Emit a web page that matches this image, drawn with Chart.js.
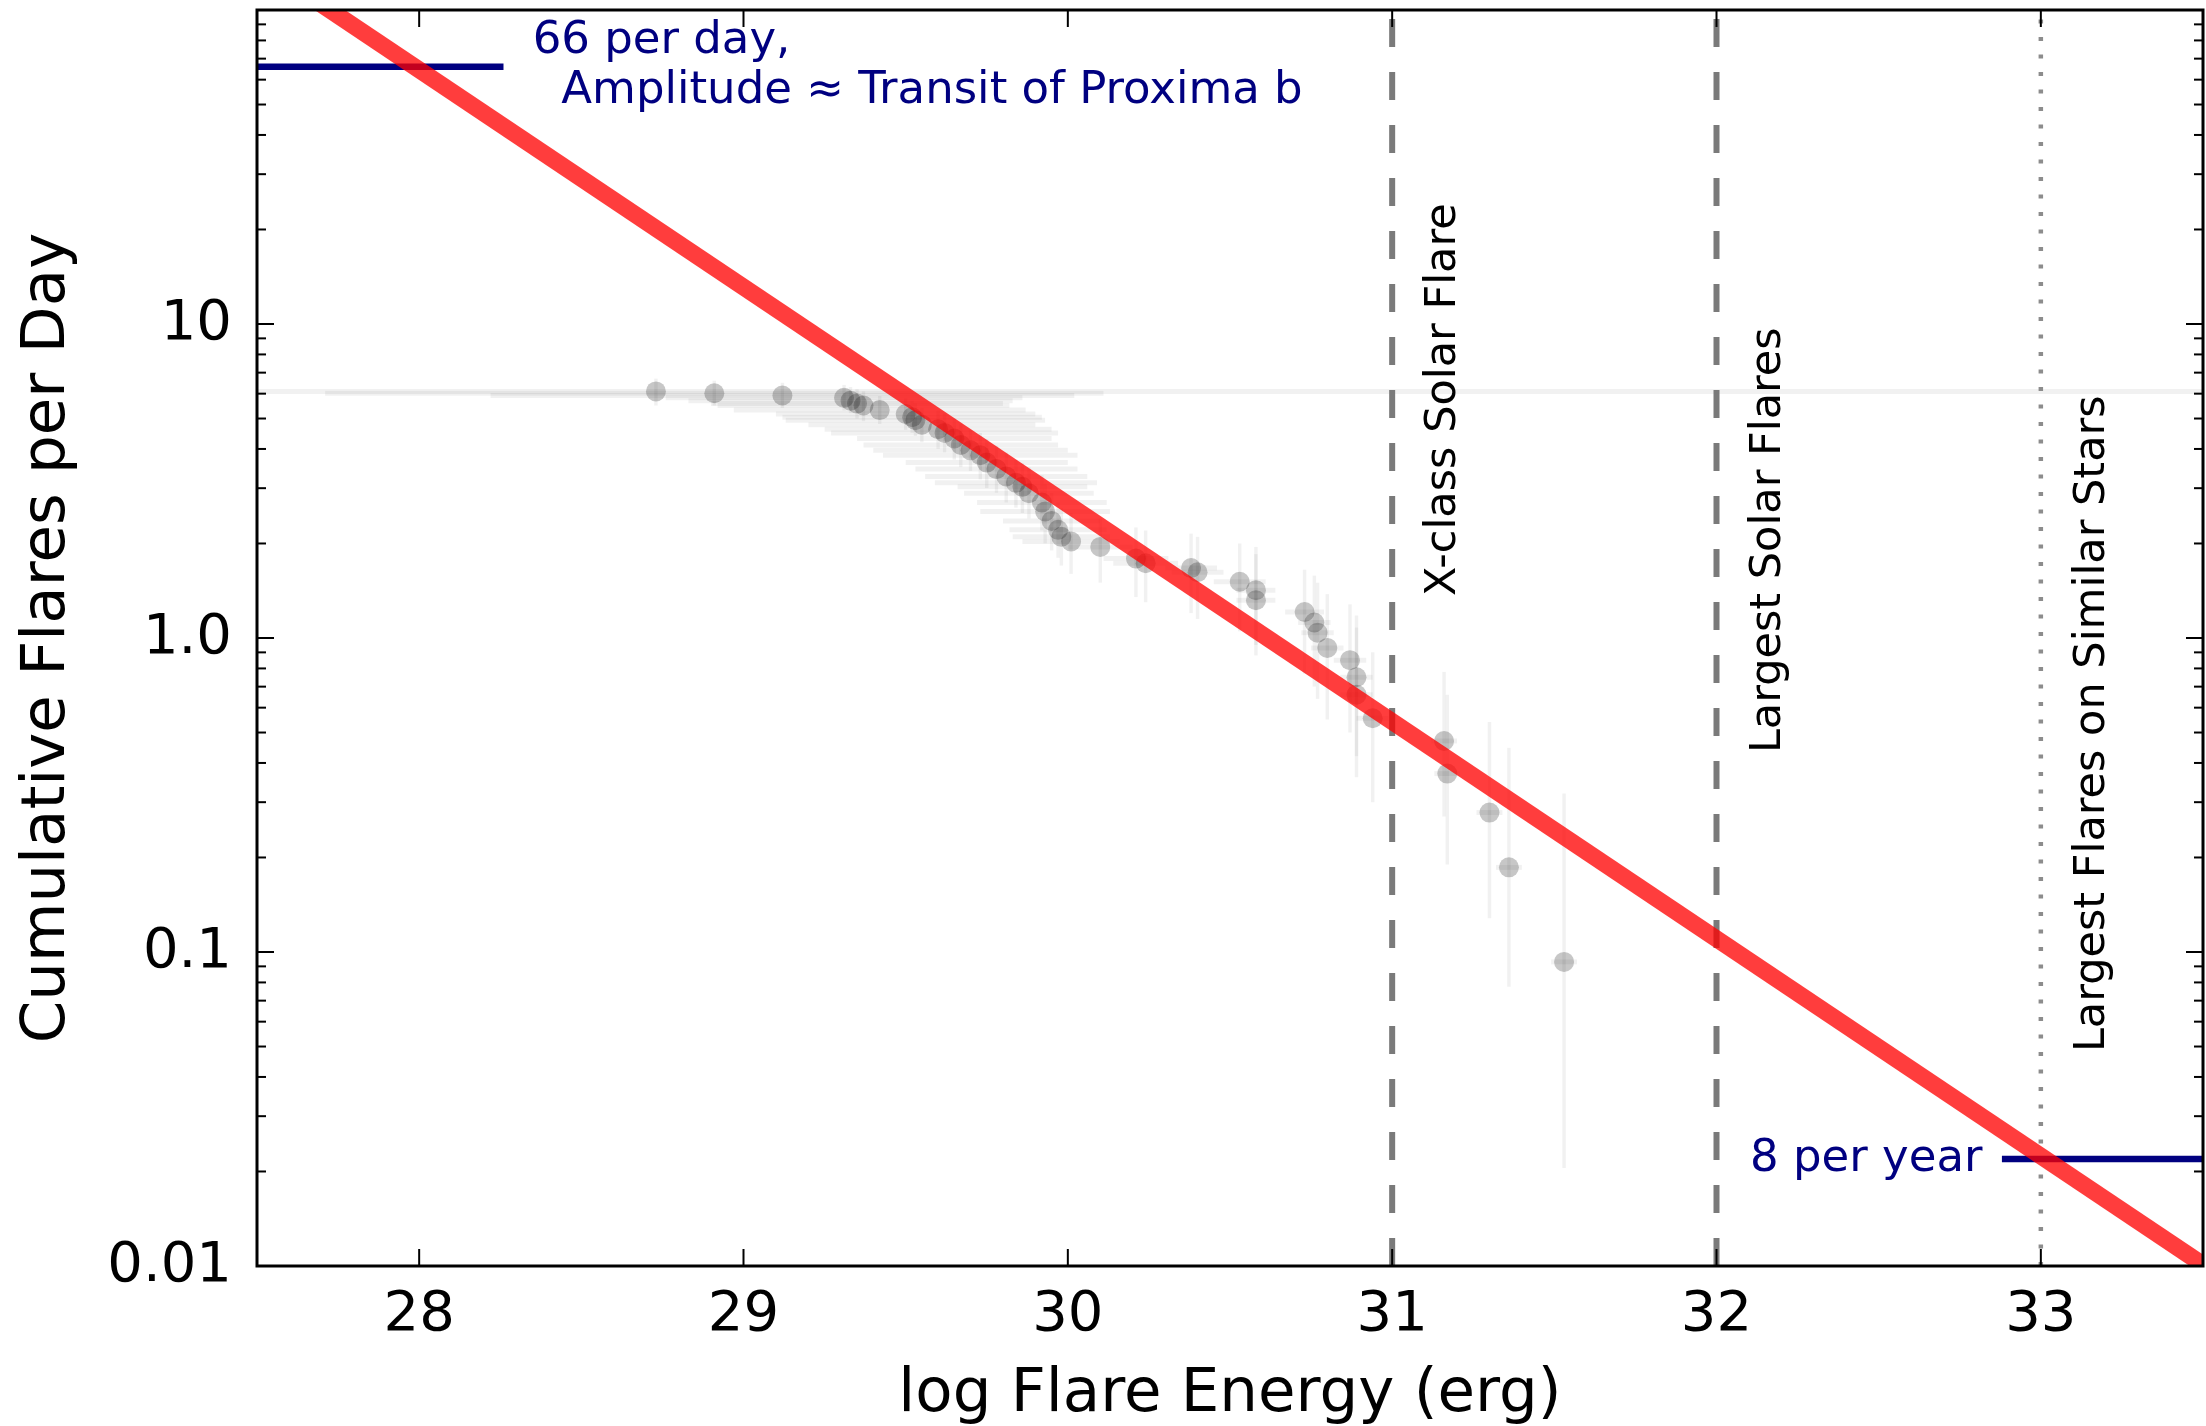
<!DOCTYPE html>
<html>
<head>
<meta charset="utf-8">
<title>Cumulative flares per day</title>
<script src="https://cdn.jsdelivr.net/npm/chart.js@4/dist/chart.umd.min.js"></script>
<style>
  html, body { margin: 0; padding: 0; background: #fff; }
  #flares { display: block; }
</style>
</head>
<body>
<canvas id="flares" width="2206" height="1426"></canvas>
<script>
// flare sample: log energy (erg) and cumulative rate (per day)
const energy = [28.73, 28.91, 29.12, 29.31, 29.33, 29.35, 29.37, 29.42, 29.50, 29.52,
  29.53, 29.55, 29.60, 29.62, 29.65, 29.67, 29.70, 29.73, 29.75, 29.78,
  29.81, 29.84, 29.86, 29.88, 29.92, 29.93, 29.95, 29.97, 29.98, 30.01,
  30.10, 30.21, 30.24, 30.38, 30.40, 30.53, 30.58, 30.58, 30.73, 30.76,
  30.77, 30.80, 30.87, 30.89, 30.89, 30.94, 31.16, 31.17, 31.30, 31.36, 31.53];
const rate = [6.10, 6.02, 5.92, 5.82, 5.70, 5.58, 5.50, 5.32, 5.17, 5.05,
  4.94, 4.78, 4.62, 4.50, 4.32, 4.12, 3.96, 3.82, 3.62, 3.45,
  3.27, 3.12, 3.03, 2.89, 2.70, 2.53, 2.36, 2.21, 2.10, 2.03,
  1.95, 1.79, 1.73, 1.67, 1.62, 1.51, 1.42, 1.32, 1.21, 1.12,
  1.04, 0.93, 0.85, 0.75, 0.66, 0.555, 0.47, 0.37, 0.278, 0.186, 0.093];
// error bar ends on the rate
const rateLow = [5.5, 5.5, 5.4, 5.3, 5.2, 5.0, 4.9, 4.8, 4.6, 4.5,
  4.4, 4.2, 4.0, 3.9, 3.7, 3.5, 3.4, 3.2, 3.0, 2.9,
  2.7, 2.6, 2.5, 2.4, 2.2, 2.0, 1.9, 1.8, 1.7, 1.6,
  1.5, 1.35, 1.3, 1.2, 1.15, 1.05, 0.95, 0.88, 0.77, 0.70,
  0.64, 0.55, 0.50, 0.42, 0.36, 0.30, 0.27, 0.19, 0.128, 0.0775, 0.0205];
const rateHigh = [6.7, 6.6, 6.5, 6.4, 6.3, 6.2, 6.1, 5.9, 5.8, 5.7,
  5.6, 5.4, 5.3, 5.2, 5.0, 4.8, 4.6, 4.5, 4.3, 4.1,
  3.9, 3.7, 3.6, 3.5, 3.3, 3.1, 2.9, 2.7, 2.6, 2.5,
  2.4, 2.25, 2.2, 2.15, 2.1, 2.0, 1.95, 1.85, 1.65, 1.58,
  1.50, 1.38, 1.28, 1.18, 1.08, 0.90, 0.78, 0.66, 0.54, 0.447, 0.32];
// error on log energy (+/-)
const energyErr = [6.0, 1.2, 0.9, 0.55, 0.5, 0.45, 0.45, 0.45, 0.4, 0.4,
  0.4, 0.35, 0.35, 0.35, 0.3, 0.3, 0.3, 0.3, 0.25, 0.25,
  0.25, 0.25, 0.2, 0.2, 0.2, 0.2, 0.15, 0.15, 0.15, 0.15,
  0.1, 0.1, 0.1, 0.08, 0.08, 0.08, 0.06, 0.06, 0.06, 0.05,
  0.05, 0.05, 0.05, 0.05, 0.05, 0.05, 0.04, 0.04, 0.04, 0.04, 0.04];

// power law fit, ends at the edges of the energy range
const fitEnergy = [27.5, 33.5];
const fitRate = [143, 0.0101];

// reference energies with their labels
const markerEnergy = [31, 32, 33];
const markerDashed = [true, true, false];
const markerText = ["X-class Solar Flare", "Largest Solar Flares", "Largest Flares on Similar Stars"];
const markerTextX = [31.16, 32.16, 33.16];
const markerTextY = [1.36, 0.43, 0.048];

// rates marked in blue
const dayRate = 66;         // 66 per day
const dayLine = [27.5, 28.26];
const yearRate = 0.0219;    // 8 per year
const yearLine = [32.88, 33.5];

// axes
const xTicks = [28, 29, 30, 31, 32, 33];
const yTicks = [0.01, 0.1, 1, 10];
const yTickLabels = ["0.01", "0.1", "1.0", "10"];

const FONT = "'DejaVu Sans', sans-serif";
const NAVY = "#000080";

// light grey error bars under the points
const errorBars = {
  id: "errorBars",
  beforeDatasetsDraw(chart) {
    const { ctx, chartArea: a, scales: { x, y } } = chart;
    ctx.save();
    ctx.beginPath();
    ctx.rect(a.left, a.top, a.right - a.left, a.bottom - a.top);
    ctx.clip();
    ctx.strokeStyle = "rgba(0,0,0,0.055)";
    ctx.lineWidth = 5;
    energy.forEach((e, i) => {
      const py = y.getPixelForValue(rate[i]);
      ctx.beginPath();
      ctx.moveTo(x.getPixelForValue(e - energyErr[i]), py);
      ctx.lineTo(x.getPixelForValue(e + energyErr[i]), py);
      ctx.stroke();
    });
    ctx.lineWidth = 3.5;
    energy.forEach((e, i) => {
      const px = x.getPixelForValue(e);
      ctx.beginPath();
      ctx.moveTo(px, y.getPixelForValue(rateLow[i]));
      ctx.lineTo(px, y.getPixelForValue(rateHigh[i]));
      ctx.stroke();
    });
    ctx.restore();
  }
};

// frame with inward ticks on all four sides
const frameTicks = {
  id: "frameTicks",
  afterDatasetsDraw(chart) {
    const { ctx, chartArea: a, scales: { x, y } } = chart;
    ctx.save();
    ctx.strokeStyle = "#000";
    ctx.lineWidth = 2;
    const tick = (x0, y0, x1, y1) => {
      ctx.beginPath();
      ctx.moveTo(x0, y0);
      ctx.lineTo(x1, y1);
      ctx.stroke();
    };
    xTicks.forEach((v) => {
      const px = x.getPixelForValue(v);
      tick(px, a.bottom, px, a.bottom - 17);
      tick(px, a.top, px, a.top + 17);
    });
    for (let d = -2; d <= 1; d++) {
      for (let m = 1; m <= 9; m++) {
        const v = m * Math.pow(10, d);
        const py = y.getPixelForValue(v);
        const len = m === 1 ? 17 : 9;
        tick(a.left, py, a.left + len, py);
        tick(a.right, py, a.right - len, py);
      }
    }
    ctx.lineWidth = 3;
    ctx.strokeRect(a.left, a.top, a.right - a.left, a.bottom - a.top);
    ctx.restore();
  }
};

// blue rate labels and rotated marker labels
const labels = {
  id: "labels",
  afterDatasetsDraw(chart) {
    const { ctx, scales: { x, y } } = chart;
    ctx.save();
    ctx.fillStyle = NAVY;
    ctx.font = "45px " + FONT;
    ctx.textBaseline = "middle";
    ctx.textAlign = "left";
    const dy = y.getPixelForValue(dayRate);
    const dx = x.getPixelForValue(dayLine[1] + 0.09);
    ctx.fillText("66 per day,", dx, dy - 25);
    ctx.fillText("  Amplitude \u2248 Transit of Proxima b", dx, dy + 25);
    ctx.textAlign = "right";
    ctx.fillText("8 per year", x.getPixelForValue(yearLine[0] - 0.06), y.getPixelForValue(yearRate));

    ctx.fillStyle = "#000";
    ctx.font = "43px " + FONT;
    ctx.textAlign = "left";
    markerText.forEach((t, i) => {
      ctx.save();
      ctx.translate(x.getPixelForValue(markerTextX[i]), y.getPixelForValue(markerTextY[i]));
      ctx.rotate(-Math.PI / 2);
      ctx.fillText(t, 0, 0);
      ctx.restore();
    });
    ctx.restore();
  }
};

// keep the plot box fixed: no extra room for the end tick labels
const noLabelPadding = (s) => {
  s.paddingTop = 0;
  s.paddingBottom = 0;
  s.paddingLeft = 0;
  s.paddingRight = 0;
};

const markerSets = markerEnergy.map((e, i) => ({
  type: "line",
  data: [{ x: e, y: 0.01 }, { x: e, y: 100 }],
  borderColor: markerDashed[i] ? "#7a7a7a" : "#8c8c8c",
  borderWidth: markerDashed[i] ? 6 : 4.5,
  borderDash: markerDashed[i] ? [28, 25] : [4, 13.5],
  pointRadius: 0,
  clip: 0,
  order: 5
}));

const ctx = document.getElementById("flares").getContext("2d");

new Chart(ctx, {
  type: "scatter",
  data: {
    datasets: [
      {
        type: "line",
        data: fitEnergy.map((e, i) => ({ x: e, y: fitRate[i] })),
        borderColor: "rgba(255,0,0,0.76)",
        borderWidth: 17,
        pointRadius: 0,
        clip: 0,
        order: 1
      },
      {
        type: "line",
        data: dayLine.map((e) => ({ x: e, y: dayRate })),
        borderColor: NAVY,
        borderWidth: 6.5,
        pointRadius: 0,
        clip: 0,
        order: 2
      },
      {
        type: "line",
        data: yearLine.map((e) => ({ x: e, y: yearRate })),
        borderColor: NAVY,
        borderWidth: 6.5,
        pointRadius: 0,
        clip: 0,
        order: 2
      },
      {
        data: energy.map((e, i) => ({ x: e, y: rate[i] })),
        backgroundColor: "rgba(0,0,0,0.22)",
        borderWidth: 0,
        pointRadius: 10,
        order: 3
      },
      ...markerSets
    ]
  },
  options: {
    responsive: false,
    animation: false,
    devicePixelRatio: 1,
    layout: { autoPadding: false, padding: { top: 10, right: 3, left: 0, bottom: 0 } },
    plugins: { legend: { display: false }, tooltip: { enabled: false } },
    scales: {
      x: {
        type: "linear",
        min: 27.5,
        max: 33.5,
        afterBuildTicks: (s) => { s.ticks = xTicks.map((v) => ({ value: v })); },
        afterFit: (s) => { s.height = 160; noLabelPadding(s); },
        grid: { display: false, drawTicks: false },
        border: { display: false },
        ticks: { color: "#000", font: { family: FONT, size: 56 }, padding: 16, autoSkip: false, maxRotation: 0 },
        title: {
          display: true,
          text: "log Flare Energy (erg)",
          color: "#000",
          font: { family: FONT, size: 61 },
          padding: { top: 0, bottom: -6 }
        }
      },
      y: {
        type: "logarithmic",
        min: 0.01,
        max: 100,
        afterBuildTicks: (s) => { s.ticks = yTicks.map((v) => ({ value: v })); },
        afterFit: (s) => { s.width = 257; noLabelPadding(s); },
        grid: { display: false, drawTicks: false },
        border: { display: false },
        ticks: {
          color: "#000",
          font: { family: FONT, size: 56 },
          padding: 25,
          autoSkip: false,
          callback: (v) => yTickLabels[yTicks.indexOf(v)]
        },
        title: {
          display: true,
          text: "Cumulative Flares per Day",
          color: "#000",
          font: { family: FONT, size: 61 },
          padding: { top: 12, bottom: 0 }
        }
      }
    }
  },
  plugins: [errorBars, frameTicks, labels]
});
</script>
</body>
</html>
